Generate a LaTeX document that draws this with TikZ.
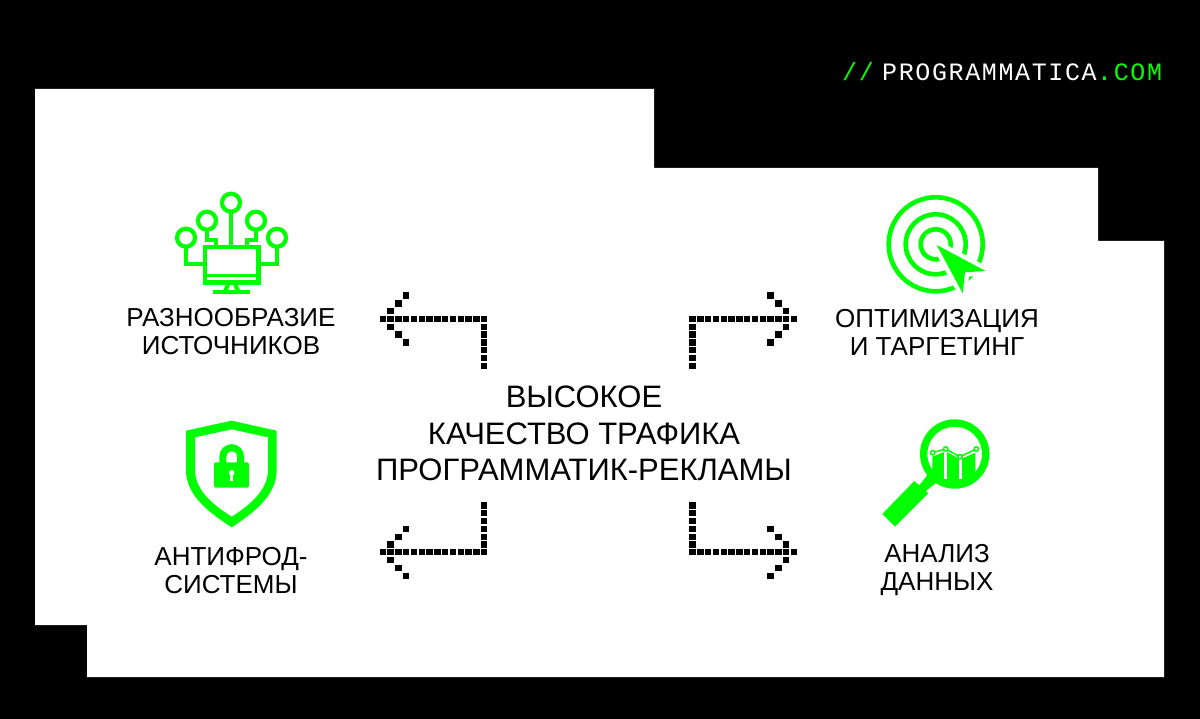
\documentclass[tikz,border=0pt]{standalone}
\usepackage{fontspec}
\setmainfont{Liberation Sans}
\newfontfamily\logofont[LetterSpace=6.5]{Liberation Mono}
\usetikzlibrary{positioning}
\definecolor{acidgreen}{HTML}{00FF00}
\tikzset{
  caption/.style={align=center,inner sep=0pt,text=black,font=\fontsize{26}{28}\selectfont},
  maintitle/.style={align=center,inner sep=0pt,text=black,font=\fontsize{31}{36.5}\selectfont},
  logotext/.style={anchor=base west,inner sep=0pt,font=\logofont\fontsize{25}{25}\selectfont},
  iconline/.style={draw=acidgreen,line width=4.2pt,fill=none},
}
\newcommand{\pixdot}[2]{\fill (#1-.41,#2-.41) rectangle +(.82,.82);}

\begin{document}
\begin{tikzpicture}[x=1pt,y=-1pt]
  \useasboundingbox (0,0) rectangle (1200,719);
  \fill[black] (0,0) rectangle (1200,719);

  % White stepped sheet
  \fill[white] (35,89) -- (654,89) -- (654,168) -- (1098,168) -- (1098,241) -- (1164,241)
    -- (1164,677) -- (87,677) -- (87,625) -- (35,625) -- cycle;

  % Logo
  \node[logotext,text=acidgreen] (slashes) at (842,81) {//};
  \node[logotext,text=white] (logoname) at (882,81) {PROGRAMMATICA};
  \node[logotext,text=acidgreen] (logocom) at (logoname.base east) {.COM};

  % Texts
  \node[maintitle] (title) at (584,433.5) {ВЫСОКОЕ\\КАЧЕСТВО ТРАФИКА\\ПРОГРАММАТИК-РЕКЛАМЫ};
  \node[caption] (sources) at (231,332) {РАЗНООБРАЗИЕ\\ИСТОЧНИКОВ};
  \node[caption] (targeting) at (937,332) {ОПТИМИЗАЦИЯ\\И ТАРГЕТИНГ};
  \node[caption] (antifraud) at (231,570.5) {АНТИФРОД-\\СИСТЕМЫ};
  \node[caption] (analysis) at (937,570) {АНАЛИЗ\\ДАННЫХ};

  % Dotted arrows
  \foreach \tipx/\tipy/\sx/\sy in {382.7/319/1/1, 794/319/-1/1, 382.7/552.3/1/-1, 794/552.3/-1/-1} {
    \begin{scope}[shift={(\tipx,\tipy)},x=7.8pt,y=-7.8pt,xscale=\sx,yscale=\sy]
      \foreach \i in {0,...,13} {\pixdot{\i}{0}}
      \foreach \j in {1,...,6} {\pixdot{13}{\j}}
      \foreach \k in {1,2,3} {\pixdot{\k}{\k}\pixdot{\k}{-\k}}
    \end{scope}
  }

  % Network icon
  \foreach \cx/\cy in {231/202.7, 207/220.7, 256/220.7, 186/237.7, 277/237.7} {
    \draw[iconline] (\cx,\cy) circle (9pt);
  }
  \draw[iconline] (205,247) rectangle (258.5,282.5);
  \draw[iconline,line width=3pt] (205,275.3) -- (258.5,275.3);
  \draw[iconline] (213,292) -- (250,292);
  \draw[iconline] (228,284) -- (225,292);
  \draw[iconline] (235,284) -- (238.5,292);
  \draw[iconline] (231,213) -- (231,245);
  \draw[iconline] (207,230) -- (207,240) -- (216,240) -- (216,245);
  \draw[iconline] (256,230) -- (256,240) -- (247,240) -- (247,245);
  \draw[iconline] (186,247) -- (186,264) -- (203.3,264);
  \draw[iconline] (277,247) -- (277,264) -- (260,264);

  % Target icon
  \foreach \r in {47,30,15} {
    \draw[draw=acidgreen,line width=4.6pt] (935.7,244.3) circle (\r pt);
  }
  \draw[white,line width=9pt,line join=miter] (936.7,245) -- (985.7,271) -- (965,272.3) -- (962.7,293.3) -- cycle;
  \fill[acidgreen] (936.7,245) -- (985.7,271) -- (965,272.3) -- (962.7,293.3) -- cycle;

  % Shield icon
  \fill[acidgreen,even odd rule]
    (231.7,420.7) -- (276.7,430.7) -- (276.7,470) .. controls (276.7,495) and (255,512) .. (231.7,527.3)
    .. controls (208,512) and (186,495) .. (186,470) -- (186,430.7) -- cycle
    (231.7,429.3) -- (268,437.3) -- (268,470) .. controls (268,490) and (250,505) .. (231.7,516.7)
    .. controls (213,505) and (195,490) .. (195,470) -- (195,437.3) -- cycle;
  \fill[acidgreen,rounded corners=1.5pt] (214,462.3) rectangle (249,487.7);
  \draw[draw=acidgreen,line width=7pt] (222.9,464) -- (222.9,456.5) arc (180:0:8.8pt) -- (240.5,464);
  \fill[white] (231.7,472.7) circle (2.7pt);
  \fill[white] (230.2,472.7) rectangle (233.2,480.7);

  % Magnifier icon
  \begin{scope}
    \clip (954.7,454) circle (31pt);
    \fill[acidgreen] (932.3,456.7) -- (945.7,451.3) -- (960.3,459.3) -- (975.3,452.7) -- (975.3,490) -- (932.3,490) -- cycle;
    \draw[white,line width=3.3pt] (945.7,449) -- (945.7,479);
    \draw[white,line width=3.3pt] (960.3,455) -- (960.3,479);
  \end{scope}
  \draw[draw=acidgreen,line width=7.4pt] (954.7,454) circle (31pt);
  \draw[draw=acidgreen,line width=1.5pt] (932.7,452.7) -- (945.7,449) -- (960,456.7) -- (976.3,449);
  \foreach \cx/\cy in {932.7/452.7, 945.7/449, 960/456.7, 976.3/449} {
    \draw[draw=acidgreen,fill=white,line width=1.5pt] (\cx,\cy) circle (2.2pt);
  }
  \fill[acidgreen] (882.3,514) -- (914.3,481) -- (928.3,493.3) -- (895,526.7) -- cycle;
  \fill[acidgreen] (918,487) -- (929,473) -- (938,481) -- (925,492) -- cycle;
\end{tikzpicture}
\end{document}
